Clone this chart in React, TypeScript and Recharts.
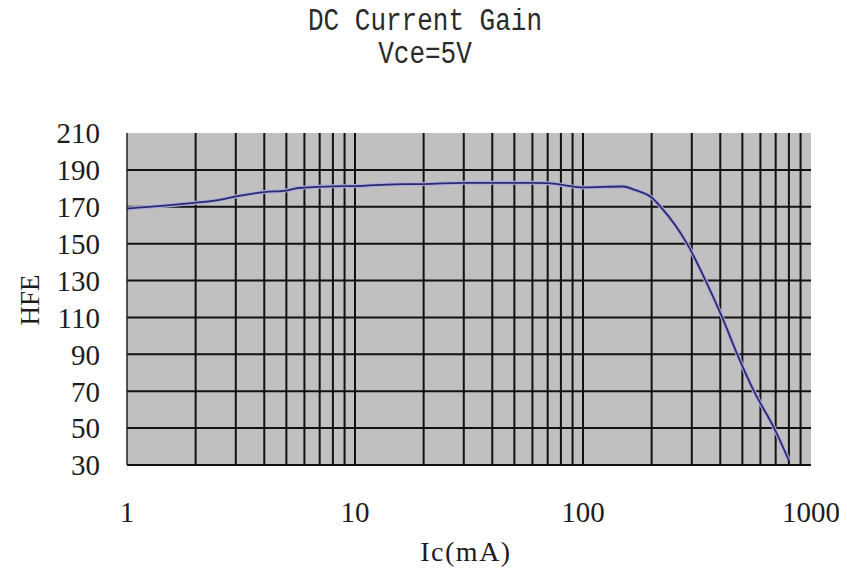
import {
  CartesianGrid,
  Line,
  LineChart,
  ReferenceLine,
  XAxis,
  YAxis,
} from "recharts";

// Ic (mA), HFE
const IC = [
  1, 2, 2.5, 3, 4, 5, 5.5, 6, 8, 10, 15, 20, 30, 60, 70, 90, 100, 150, 170,
  200, 219, 286, 345, 408, 475, 562, 689, 800,
];
const HFE = [
  169, 172.2, 173.6, 175.6, 178, 178.8, 180, 180.4, 181.1, 181.2, 182.2, 182.3,
  183, 183, 182.8, 181, 180.5, 181, 179, 175, 170, 150, 130, 110, 90, 70, 50,
  32.5,
];

const X_TICKS = [
  1, 2, 3, 4, 5, 6, 7, 8, 9, 10, 20, 30, 40, 50, 60, 70, 80, 90, 100, 200,
  300, 400, 500, 600, 700, 800, 900, 1000,
];
const X_LABELS = [1, 10, 100, 1000];
const X_GRID = X_TICKS.filter((v) => v > 1 && v < 1000);
const Y_TICKS = [30, 50, 70, 90, 110, 130, 150, 170, 190, 210];
const Y_GRID = Y_TICKS.filter((v) => v > 30 && v < 210);

const data = IC.map((ic, i) => ({ ic, hfe: HFE[i] }));

const tickStyle = {
  fontFamily: "'Liberation Serif', serif",
  fontSize: 29,
  fill: "#1c1c1c",
};

const titleLine = {
  position: "absolute" as const,
  left: 0,
  right: 0,
  lineHeight: "24px",
  height: 24,
  transform: "scaleY(1.2)",
};

export default function App() {
  return (
    <div style={{ position: "relative", width: 839, height: 572 }}>
      <div
        style={{
          position: "absolute",
          left: 217,
          width: 400,
          top: 0,
          height: 70,
          textAlign: "center",
          fontFamily: "'Liberation Mono', monospace",
          fontSize: 26,
          color: "#2a2a2a",
        }}
      >
        <div style={{ ...titleLine, top: 2 }}>DC Current Gain</div>
        <div style={{ ...titleLine, top: 35 }}>Vce=5V</div>
      </div>

      <LineChart
        width={839}
        height={572}
        data={data}
        margin={{ top: 125, right: 36, bottom: 0, left: 0 }}
      >
        <CartesianGrid
          horizontal={false}
          vertical={false}
          fill="#c0c0c0"
          stroke="none"
        />
        {X_GRID.map((v) => (
          <ReferenceLine key={`x${v}`} x={v} stroke="#111" strokeWidth={2} />
        ))}
        {Y_GRID.map((v) => (
          <ReferenceLine key={`y${v}`} y={v} stroke="#111" strokeWidth={2} />
        ))}
        <XAxis
          dataKey="ic"
          type="number"
          scale="log"
          domain={[1, 1000]}
          ticks={X_TICKS}
          interval={0}
          allowDataOverflow
          height={115}
          tickLine={false}
          tickSize={0}
          tickMargin={36}
          axisLine={{ stroke: "#111", strokeWidth: 2 }}
          tick={tickStyle}
          tickFormatter={(v: number) => (X_LABELS.includes(v) ? String(v) : "")}
        />
        <YAxis
          type="number"
          domain={[30, 210]}
          ticks={Y_TICKS}
          interval={0}
          width={119}
          tickLine={false}
          tickSize={0}
          tickMargin={27}
          axisLine={{ stroke: "#222", strokeWidth: 1.5 }}
          tick={tickStyle}
        />
        <Line
          dataKey="hfe"
          type="monotone"
          stroke="#acacdc"
          strokeWidth={4}
          dot={false}
          activeDot={false}
          isAnimationActive={false}
        />
        <Line
          dataKey="hfe"
          type="monotone"
          stroke="#2a2a6c"
          strokeWidth={1.8}
          dot={false}
          activeDot={false}
          isAnimationActive={false}
        />
      </LineChart>

      <div
        style={{
          position: "absolute",
          left: 22,
          top: 292,
          transform: "translate(-50%, -50%) rotate(-90deg)",
          fontFamily: "'Liberation Serif', serif",
          fontSize: 27,
          color: "#1c1c1c",
          whiteSpace: "nowrap",
        }}
      >
        HFE
      </div>
      <div
        style={{
          position: "absolute",
          left: 458,
          top: 544,
          transform: "translate(-50%, -50%)",
          fontFamily: "'Liberation Serif', serif",
          fontSize: 28,
          letterSpacing: 1.5,
          color: "#1c1c1c",
          whiteSpace: "nowrap",
        }}
      >
        Ic(mA)
      </div>
    </div>
  );
}
